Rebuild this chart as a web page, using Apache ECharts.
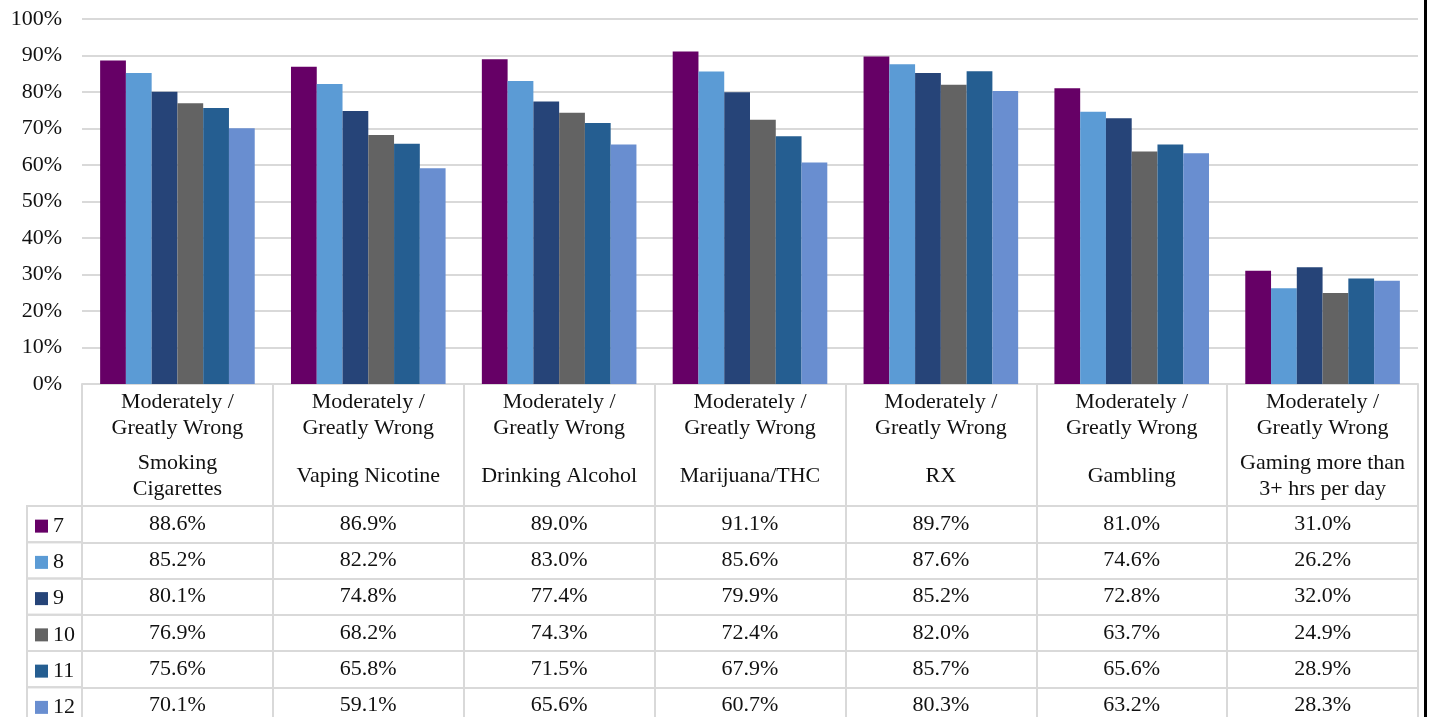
<!DOCTYPE html>
<html>
<head>
<meta charset="utf-8">
<style>
  html, body { margin: 0; padding: 0; background: #fff; }
  #chart { width: 1432px; height: 717px; }
</style>
<script src="https://cdn.jsdelivr.net/npm/echarts@6/dist/echarts.min.js"></script>
</head>
<body>
<div id="chart"></div>
<script>
// Share of students rating each behaviour as moderately / greatly wrong, by grade
const levelLabel = 'Moderately /\nGreatly Wrong';
const categories = [
  'Smoking\nCigarettes',
  'Vaping Nicotine',
  'Drinking Alcohol',
  'Marijuana/THC',
  'RX',
  'Gambling',
  'Gaming more than\n3+ hrs per day'
];
const grades = ['7', '8', '9', '10', '11', '12'];
const grade7  = [88.6, 86.9, 89.0, 91.1, 89.7, 81.0, 31.0];
const grade8  = [85.2, 82.2, 83.0, 85.6, 87.6, 74.6, 26.2];
const grade9  = [80.1, 74.8, 77.4, 79.9, 85.2, 72.8, 32.0];
const grade10 = [76.9, 68.2, 74.3, 72.4, 82.0, 63.7, 24.9];
const grade11 = [75.6, 65.8, 71.5, 67.9, 85.7, 65.6, 28.9];
const grade12 = [70.1, 59.1, 65.6, 60.7, 80.3, 63.2, 28.3];
const yTicks = [0, 10, 20, 30, 40, 50, 60, 70, 80, 90, 100];

const seriesValues = [grade7, grade8, grade9, grade10, grade11, grade12];
const colors = ['#660066', '#5B9BD5', '#264478', '#636363', '#255E91', '#698ED0'];

const FONT = '"Liberation Serif", "DejaVu Serif", serif';
const FS = 22;
const INK = '#111';
const RULE = '#d9d9d9';

// layout
const W = 1432, H = 717;
const gridLeft = 82, gridRight = 14, gridTop = 19, axisY = 384;
const headerH = 122;      // category header block of the data table
const rowH = 36.25;       // data-table row height
const legendLeft = 27;
const legendLineH = 20;

const chart = echarts.init(document.getElementById('chart'), null, { renderer: 'canvas' });

const fmt = v => v.toFixed(1) + '%';

// one extra x axis per table row: its line is the row's top rule, its labels are the values
const rowAxes = seriesValues.map((vals, i) => ({
  type: 'category',
  gridIndex: 0,
  position: 'bottom',
  offset: headerH + i * rowH,
  data: vals.map(fmt),
  axisLine: { show: true, lineStyle: { color: RULE, width: 2 } },
  axisTick: { show: false },
  axisLabel: {
    interval: 0, margin: rowH / 2, verticalAlign: 'middle',
    fontFamily: FONT, fontSize: FS, color: INK
  },
  z: 1
}));

const xAxes = [
  {
    type: 'category',
    data: categories.map(() => levelLabel),
    axisLine: { show: true, lineStyle: { color: RULE, width: 2 } },
    axisTick: { show: true, alignWithLabel: false, length: H - axisY + 10, lineStyle: { color: RULE, width: 2 } },
    axisLabel: {
      interval: 0, margin: 31, verticalAlign: 'middle', lineHeight: 26,
      fontFamily: FONT, fontSize: FS, color: INK
    }
  },
  {
    type: 'category',
    position: 'bottom',
    offset: 0,
    data: categories,
    axisLine: { show: false },
    axisTick: { show: false },
    axisLabel: {
      interval: 0, margin: 92, verticalAlign: 'middle', lineHeight: 26,
      fontFamily: FONT, fontSize: FS, color: INK
    }
  }
].concat(rowAxes);

// borders of the legend column to the left of the table
const legendCells = grades.map((g, i) => ({
  type: 'rect',
  shape: { x: legendLeft, y: axisY + headerH + i * rowH, width: gridLeft - legendLeft, height: rowH },
  style: { fill: 'none', stroke: RULE, lineWidth: 2 },
  z: 1
}));

// one legend key per table row
const legends = grades.map((g, i) => ({
  orient: 'vertical',
  left: legendLeft + 8,
  top: axisY + headerH + i * rowH + (rowH - legendLineH) / 2 + 1,
  padding: 0,
  itemWidth: 13,
  itemHeight: 13,
  itemGap: 0,
  icon: 'rect',
  selectedMode: false,
  textStyle: { fontFamily: FONT, fontSize: FS, color: INK, lineHeight: legendLineH },
  data: [g]
}));

chart.setOption({
  backgroundColor: '#fff',
  animation: false,
  color: colors,
  grid: { left: gridLeft, right: gridRight, top: gridTop, bottom: H - axisY, containLabel: false },
  legend: legends,
  xAxis: xAxes,
  yAxis: {
    type: 'value',
    min: yTicks[0],
    max: yTicks[yTicks.length - 1],
    interval: yTicks[1] - yTicks[0],
    axisLine: { show: false },
    axisTick: { show: false },
    splitLine: { lineStyle: { color: RULE, width: 2 } },
    axisLabel: { margin: 20, fontFamily: FONT, fontSize: FS, color: INK, formatter: '{value}%' }
  },
  series: grades.map((g, i) => ({
    name: g,
    type: 'bar',
    xAxisIndex: 0,
    barGap: '0%',
    barCategoryGap: '19%',
    data: seriesValues[i],
    itemStyle: { color: colors[i] },
    z: 3
  })),
  graphic: legendCells.concat([
    { type: 'rect', shape: { x: 1424, y: 0, width: 3, height: H }, style: { fill: '#000' }, z: 10 }
  ])
});
</script>
</body>
</html>
